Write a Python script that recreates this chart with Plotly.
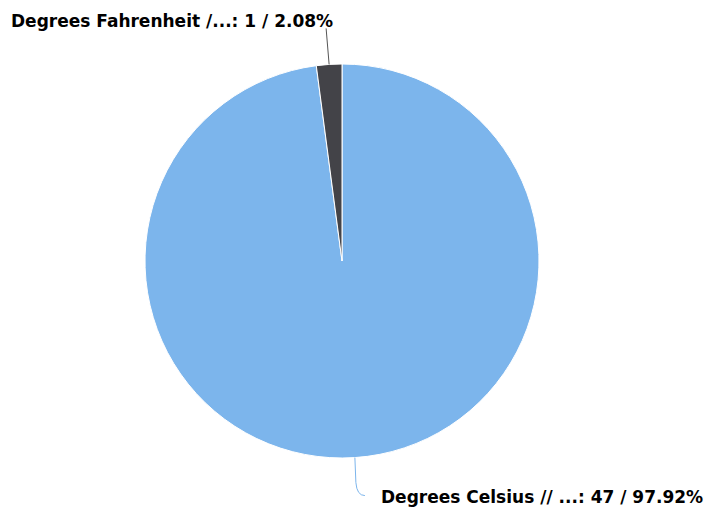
import math
import plotly.graph_objects as go

labels = ["Degrees Celsius // ...", "Degrees Fahrenheit /..."]
values = [47, 1]
colors = ["#7cb5ec", "#434348"]

OFF = 8                      # page body margin of the browser
W, H = 713 - 2 * OFF, 516 - 2 * OFF
CX, CY, R = 342, 261, 197    # pie centre / radius in screen pixels (layout)

def px(x): return (x - OFF) / W
def py(y): return 1 - (y - OFF) / H

fig = go.Figure(go.Pie(
    labels=labels, values=values, sort=False, direction="clockwise", rotation=0,
    marker=dict(colors=colors, line=dict(color="#ffffff", width=1)),
    textinfo="none", hoverinfo="label+value+percent", showlegend=False,
    domain=dict(x=[px(CX - R), px(CX + R)], y=[py(CY + R), py(CY - R)]),
))

total = sum(values)
shapes, annotations = [], []
cum = 0
for lab, v, c in zip(labels, values, colors):
    mid = (cum + v / 2) / total * 2 * math.pi
    cum += v
    ex = CX + R * math.sin(mid)
    ey = CY - R * math.cos(mid)
    pct = v / total * 100
    text = f"<b>{lab}: {v} / {pct:.2f}%</b>"
    if math.cos(mid) < 0:  # bottom label
        p2 = (ex + 1, ey + 25)
        p3 = (ex + 10, ey + 38)
        lx, ly, anchor = ex + 24, ey + 39, "left"
        path = (f"M {px(ex)} {py(ey)} L {px(p2[0])} {py(p2[1])} "
                f"Q {px(p2[0] + 1)} {py(p3[1])} {px(p3[0])} {py(p3[1])}")
        lc = c
    else:  # top label
        p2 = (ex - 3, ey - 36)
        lx, ly, anchor = ex + 6, ey - 43, "right"
        path = f"M {px(ex)} {py(ey)} L {px(p2[0])} {py(p2[1])}"
        lc = "#555555"
    shapes.append(dict(type="path", xref="paper", yref="paper", path=path,
                       line=dict(color=lc, width=1)))
    annotations.append(dict(x=px(lx), y=py(ly), xref="paper", yref="paper",
                            text=text, showarrow=False, xanchor=anchor, yanchor="middle",
                            font=dict(family="DejaVu Sans", size=17, color="#000000")))

fig.update_layout(
    width=W, height=H, margin=dict(l=0, r=0, t=0, b=0),
    paper_bgcolor="#ffffff", plot_bgcolor="#ffffff",
    shapes=shapes, annotations=annotations,
)
fig.write_html("out.html")
